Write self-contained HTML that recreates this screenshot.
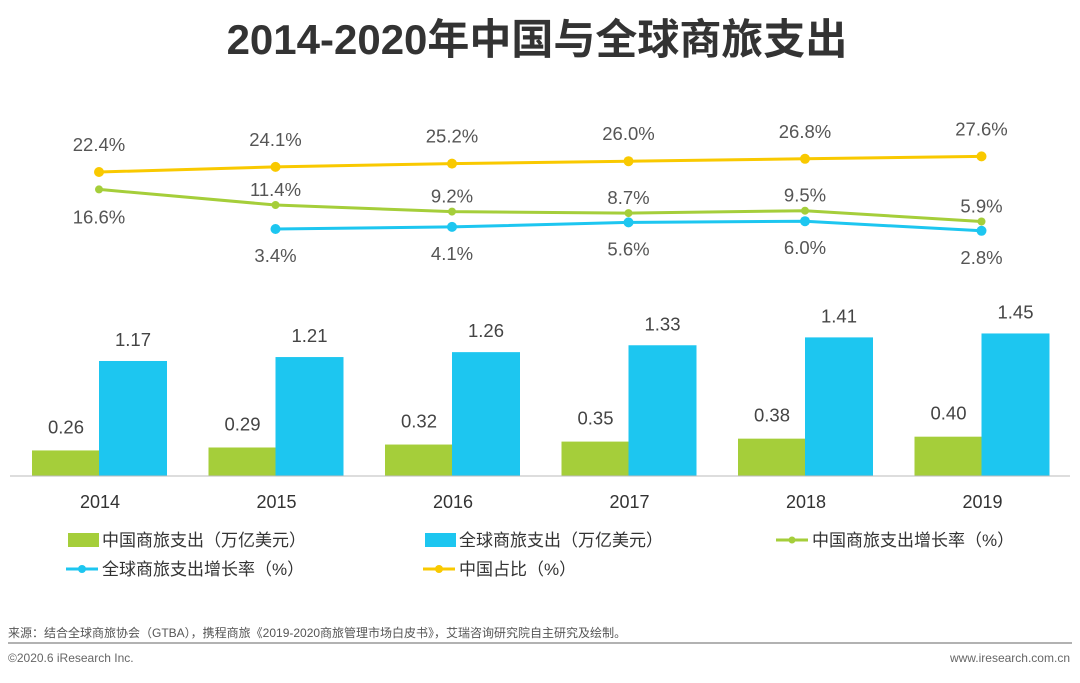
<!DOCTYPE html>
<html><head><meta charset="utf-8"><style>
body{margin:0;width:1080px;height:678px;background:#fff;overflow:hidden;font-family:"Liberation Sans","Noto Sans CJK SC",sans-serif}
</style></head><body>
<svg width="1080" height="678" xmlns="http://www.w3.org/2000/svg" style="font-family:'Liberation Sans','Noto Sans CJK SC',sans-serif">
<text x="537" y="54" text-anchor="middle" font-size="42" font-weight="bold" fill="#333">2014-2020年中国与全球商旅支出</text>
<g id="bars"></g><g id="lines"></g>
<line x1="10" y1="476" x2="1070" y2="476" stroke="#bbb" stroke-width="1"/>
<g font-size="17" fill="#333">
<g><rect x="68" y="533" width="31" height="14" fill="#A5CE3A"/><text x="102" y="546">中国商旅支出（万亿美元）</text></g>
<g><rect x="425" y="533" width="31" height="14" fill="#1DC6F0"/><text x="459" y="546">全球商旅支出（万亿美元）</text></g>
<g><line x1="776" y1="540" x2="808" y2="540" stroke="#A5CE3A" stroke-width="3"/><circle cx="792" cy="540" r="3.5" fill="#A5CE3A"/><text x="812" y="546">中国商旅支出增长率（%）</text></g>
<g><line x1="66" y1="569" x2="98" y2="569" stroke="#1DC6F0" stroke-width="3"/><circle cx="82" cy="569" r="4" fill="#1DC6F0"/><text x="102" y="575">全球商旅支出增长率（%）</text></g>
<g><line x1="423" y1="569" x2="455" y2="569" stroke="#F9C900" stroke-width="3"/><circle cx="439" cy="569" r="4" fill="#F9C900"/><text x="459" y="575">中国占比（%）</text></g>
</g>
<text x="8" y="637" font-size="12" fill="#555">来源：结合全球商旅协会（GTBA），携程商旅《2019-2020商旅管理市场白皮书》，艾瑞咨询研究院自主研究及绘制。</text>
<line x1="8" y1="643" x2="1072" y2="643" stroke="#999" stroke-width="1.5"/>
<text x="8" y="662" font-size="12" fill="#666">©2020.6 iResearch Inc.</text>
<text x="1070" y="662" font-size="12" fill="#666" text-anchor="end">www.iresearch.com.cn</text>
</svg>
<script>
const years=["2014","2015","2016","2017","2018","2019"];
const chinaSpend=[0.26,0.29,0.32,0.35,0.38,0.40];
const globalSpend=[1.17,1.21,1.26,1.33,1.41,1.45];
const chinaShare=[22.4,24.1,25.2,26.0,26.8,27.6];
const chinaGrowth=[16.6,11.4,9.2,8.7,9.5,5.9];
const globalGrowth=[null,3.4,4.1,5.6,6.0,2.8];
const NS="http://www.w3.org/2000/svg";
const xC=i=>99+i*176.5;
const yBar=v=>476-v*98.3;
const yLine=v=>172-(v-22.4)*3.0;
function mk(tag,attrs,parent,txt){const e=document.createElementNS(NS,tag);for(const k in attrs)e.setAttribute(k,attrs[k]);if(txt!==undefined)e.textContent=txt;parent.appendChild(e);return e;}
const bars=document.getElementById('bars'),lines=document.getElementById('lines');
years.forEach((y,i)=>{
  const c=xC(i);
  let r=mk('rect',{x:c-67,y:yBar(chinaSpend[i]),width:67,height:476-yBar(chinaSpend[i]),fill:'#A5CE3A'},bars);
  
  
  r=mk('rect',{x:c,y:yBar(globalSpend[i]),width:68,height:476-yBar(globalSpend[i]),fill:'#1DC6F0'},bars);
  
  
  let t=mk('text',{x:c-33,y:yBar(chinaSpend[i])-17,'text-anchor':'middle','font-size':18.5,fill:'#444'},bars,chinaSpend[i].toFixed(2));
  
  
  t=mk('text',{x:c+34,y:yBar(globalSpend[i])-15,'text-anchor':'middle','font-size':18.5,fill:'#444'},bars,globalSpend[i].toFixed(2));
  
  
  t=mk('text',{x:c+1,y:508,'text-anchor':'middle','font-size':18,fill:'#333'},bars,y);
  
  
});
function series(vals,color,name,r,labelOff){
  const pts=[];vals.forEach((v,i)=>{if(v!==null)pts.push([xC(i),yLine(v),v,i]);});
  const p=mk('polyline',{points:pts.map(q=>q[0]+','+q[1]).join(' '),fill:'none',stroke:color,'stroke-width':3},lines);
  
  
  pts.forEach(q=>{
    const c=mk('circle',{cx:q[0],cy:q[1],r:r,fill:color},lines);
    
    
    const t=mk('text',{x:q[0],y:q[1]+labelOff(q[3]),'text-anchor':'middle','font-size':18.5,fill:'#555'},lines,q[2].toFixed(1)+'%');
    
    
  });
}
series(chinaShare,'#F9C900','china-share',5,()=>-21);
series(chinaGrowth,'#A5CE3A','china-growth',4,i=>i===0?34:-9);
series(globalGrowth,'#1DC6F0','global-growth',5,()=>33);
</script>
</body></html>
